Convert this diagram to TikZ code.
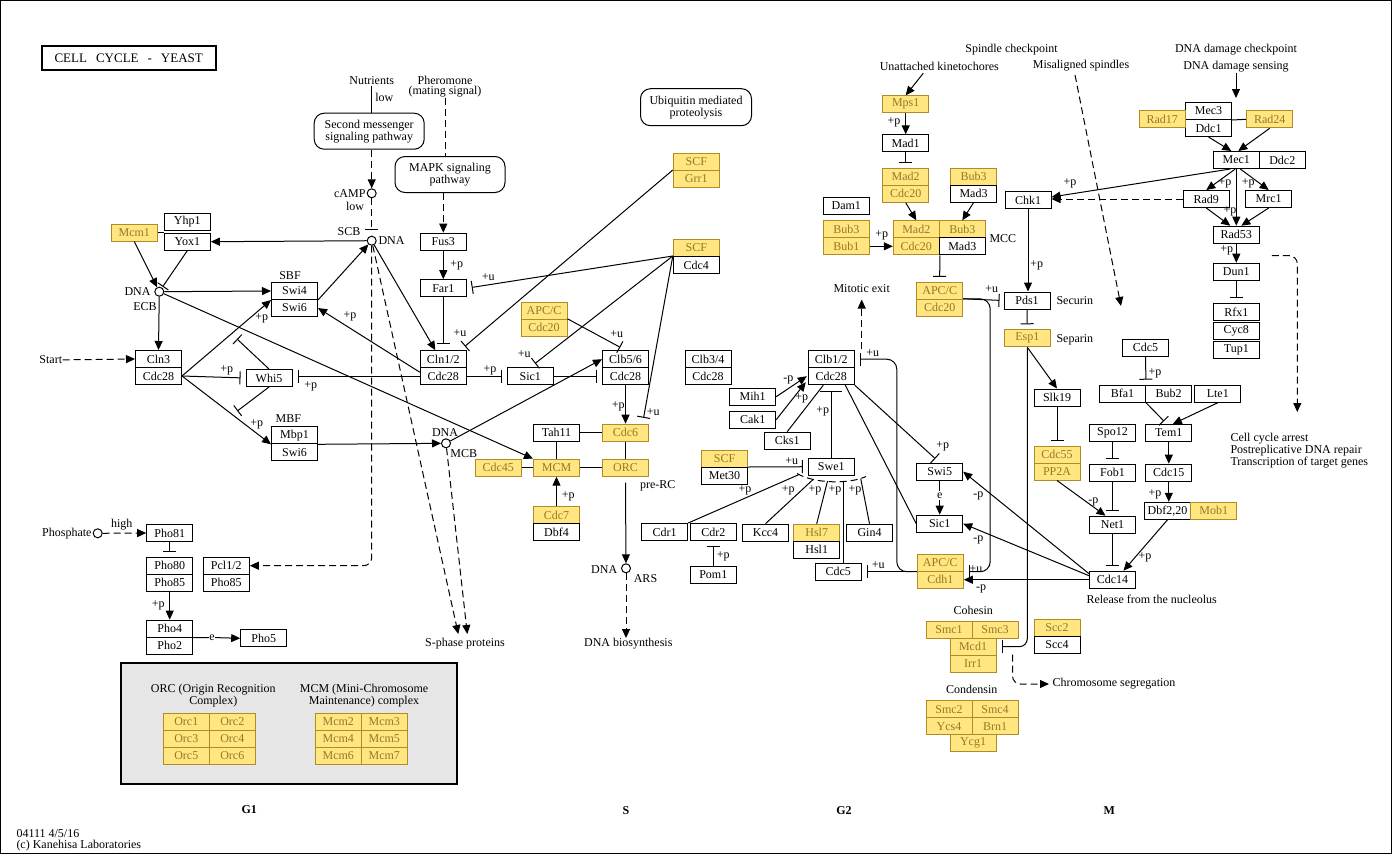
\documentclass[tikz,border=0pt]{standalone}
\usepackage{fontspec}
\setmainfont{Liberation Serif}
\usetikzlibrary{arrows.meta,calc}

\definecolor{kgfill}{RGB}{255,230,128}
\definecolor{kgedge}{RGB}{176,140,36}
\definecolor{kgtext}{RGB}{150,120,40}
\definecolor{kggray}{RGB}{230,230,230}
\newcommand{\kfont}{\fontsize{12}{10.7}\selectfont}

\tikzset{
  gene/.style={draw, fill=white, minimum width=46pt, minimum height=17pt, inner sep=0pt},
  ygene/.style={gene, fill=kgfill, draw=kgedge, text=kgtext},
  mapbox/.style={draw, rounded corners=10pt, align=center, inner sep=2pt},
  site/.style={circle, draw, fill=white, minimum size=9pt, inner sep=0pt},
  lbl/.style={inner sep=0pt},
  phase/.style={inner sep=0pt, font=\kfont\bfseries},
  act/.style={-{Triangle[length=9pt,width=8pt]}},
  inh/.style={-{Bar[width=13pt]}, shorten >=5pt},
  dashed/.style={dash pattern=on 7pt off 4pt},
}

\begin{document}
\begin{tikzpicture}[x=1pt,y=-1pt,line width=1pt,font=\kfont]
\useasboundingbox (0,0) rectangle (1393,855);
\draw (0.5,0.5) rectangle (1391,853.5);
\node[draw, line width=2pt, minimum width=174pt, minimum height=24pt, font=\fontsize{13}{13}\selectfont]
  (title) at (128.7,58.3) {CELL\hspace{9pt}CYCLE\hspace{9pt}-\hspace{9pt}YEAST};

% ---- G1 ----
\node[ygene] (mcmI) at (134.3,232.7) {Mcm1};
\node[gene] (yhp1) at (187.3,221.7) {Yhp1};
\node[gene] (yox1) at (187.3,241.7) {Yox1};
\node[site] (ecb) at (159.3,291.7) {};
\node[lbl,anchor=east] (ecbdna) at (151,292) {DNA};
\node[lbl] (ecbname) at (145,307) {ECB};
\node[lbl] (sbf) at (290,276) {SBF};
\node[gene] (swi4) at (294.5,291) {Swi4};
\node[gene] (swi6a) at (294.5,308) {Swi6};
\node[lbl] (start) at (50.8,360) {Start};
\node[gene] (cln3) at (158.5,359) {Cln3};
\node[gene] (cdc28a) at (158.5,376) {Cdc28};
\node[gene] (whi5) at (269,378) {Whi5};
\node[lbl] (mbf) at (288.3,418.3) {MBF};
\node[gene] (mbp1) at (294.5,435.3) {Mbp1};
\node[gene] (swi6b) at (294.5,452.3) {Swi6};
\node[site] (mcb) at (446,443.3) {};
\node[lbl] (mcbdna) at (445,432.8) {DNA};
\node[lbl] (mcbname) at (463.7,453.3) {MCB};

\node[site] (phos) at (97.7,533.3) {};
\node[lbl,anchor=east] (phosname) at (92,533.3) {Phosphate};
\node[lbl] (high) at (121.7,524.3) {high};
\node[gene] (pho81) at (169.7,533) {Pho81};
\node[gene] (pho80) at (169.7,565.7) {Pho80};
\node[gene] (pho85a) at (169.7,582.7) {Pho85};
\node[gene] (pcl12) at (226.3,565.7) {Pcl1/2};
\node[gene] (pho85b) at (226.3,582.7) {Pho85};
\node[gene] (pho4) at (169.7,628.7) {Pho4};
\node[gene] (pho2) at (169.7,645.7) {Pho2};
\node[lbl] (pho5e) at (212,637.5) {e};
\node[gene] (pho5) at (263.7,638.3) {Pho5};

\node[draw, fill=kggray, line width=2pt, minimum width=335.7pt, minimum height=121pt] (cpxbox) at (288.8,723.8) {};
\node[lbl, align=center] (orctext) at (213.3,695.3) {ORC (Origin Recognition\\Complex)};
\node[lbl, align=center] (mcmtext) at (364,695.3) {MCM (Mini-Chromosome\\Maintenance) complex};
\foreach \a/\b/\y in {1/2/721.8, 3/4/738.8, 5/6/755.8} {
  \node[ygene] (orc\a) at (186.3,\y) {Orc\a};
  \node[ygene] (orc\b) at (232.3,\y) {Orc\b};
}
\foreach \a/\b/\y in {2/3/721.8, 4/5/738.8, 6/7/755.8} {
  \node[ygene] (mcm\a) at (338.3,\y) {Mcm\a};
  \node[ygene] (mcm\b) at (384.3,\y) {Mcm\b};
}
\node[phase] (g1) at (249.3,810) {G1};
\node[lbl, anchor=west, align=left] (foot) at (16,840.5) {04111 4/5/16\\(c) Kanehisa Laboratories};

% ---- G1/S ----
\node[lbl] (nutr) at (371.7,81) {Nutrients};
\node[lbl] (nutrlow) at (384.3,97.7) {low};
\node[mapbox, minimum width=110pt, minimum height=36pt] (msgr) at (369.2,131.2) {Second messenger\\signaling pathway};
\node[site] (camp) at (371.7,193.3) {};
\node[lbl,anchor=east] (campname) at (366,193.3) {cAMP};
\node[lbl] (camplow) at (355,206.7) {low};
\node[lbl] (scb) at (349,232) {SCB};
\node[site] (scbdna) at (371.7,240.7) {};
\node[lbl,anchor=west] (scbdnaname) at (378,240.7) {DNA};
\node[lbl, align=center] (phero) at (445,86.5) {Pheromone\\(mating signal)};
\node[mapbox, minimum width=110pt, minimum height=36pt] (mapk) at (450,174.5) {MAPK signaling\\pathway};
\node[gene] (fus3) at (443.3,241.7) {Fus3};
\node[gene] (far1) at (443.3,288.2) {Far1};
\node[gene] (cln12) at (443.3,359.2) {Cln1/2};
\node[gene] (cdc28b) at (443.3,376.2) {Cdc28};
\node[gene] (sic1a) at (530.3,376.2) {Sic1};
\node[ygene] (apca) at (544,310.8) {APC/C};
\node[ygene] (cdc20a) at (544,327.8) {Cdc20};
\node[gene] (clb56) at (625.5,359.2) {Clb5/6};
\node[gene] (cdc28c) at (625.5,376.2) {Cdc28};
\node[mapbox, minimum width=111pt, minimum height=37pt] (ubiq) at (696,107.2) {Ubiquitin mediated\\proteolysis};
\node[ygene] (scfa) at (696.3,162) {SCF};
\node[ygene] (grr1) at (696.3,179) {Grr1};
\node[ygene] (scfb) at (696.3,248) {SCF};
\node[gene] (cdc4) at (696.3,265) {Cdc4};
\node[gene] (tah11) at (556.5,432.7) {Tah11};
\node[ygene] (cdc6) at (625.5,432.7) {Cdc6};
\node[ygene] (cdc45) at (498.3,467.7) {Cdc45};
\node[ygene] (mcmc) at (556.5,467.7) {MCM};
\node[ygene] (orcc) at (625.5,467.7) {ORC};
\node[ygene] (cdc7) at (556.5,515) {Cdc7};
\node[gene] (dbf4) at (556.5,532) {Dbf4};
\node[lbl] (prerc) at (657.7,486) {pre-RC};
\node[site] (ars) at (626,568.3) {};
\node[lbl] (arsdna) at (604.2,570) {DNA};
\node[lbl] (arsname) at (645.5,578.3) {ARS};
\node[lbl] (dnasyn) at (628.3,644) {DNA biosynthesis};
\node[lbl] (sphase) at (465,644) {S-phase proteins};
\node[phase] (s) at (626,811) {S};

% ---- G2 ----
\node[gene] (clb34) at (708,359.2) {Clb3/4};
\node[gene] (cdc28d) at (708,376.2) {Cdc28};
\node[gene] (clb12) at (831.3,359.2) {Clb1/2};
\node[gene] (cdc28e) at (831.3,376.2) {Cdc28};
\node[lbl] (mitexit) at (861.7,289) {Mitotic exit};
\node[gene] (mih1) at (752.7,396.7) {Mih1};
\node[gene] (cak1) at (752.7,419.7) {Cak1};
\node[gene] (cks1) at (787.2,440.7) {Cks1};
\node[ygene] (scfc) at (724.5,459) {SCF};
\node[gene] (met30) at (724.5,476) {Met30};
\node[gene] (swe1) at (831.3,466.7) {Swe1};
\node[gene] (cdr1) at (664.7,532) {Cdr1};
\node[gene] (cdr2) at (713.3,532) {Cdr2};
\node[gene] (pom1) at (713.3,574.7) {Pom1};
\node[gene] (kcc4) at (765.5,532.7) {Kcc4};
\node[ygene] (hsl7) at (816.7,532.7) {Hsl7};
\node[gene] (hsl1) at (816.7,549.7) {Hsl1};
\node[gene] (gin4) at (869.5,532.7) {Gin4};
\node[gene] (cdc5a) at (838.3,571.7) {Cdc5};
\node[gene] (swi5) at (939.7,471.7) {Swi5};
\node[lbl, fill=white, inner sep=1pt] (swi5e) at (939.7,495.7) {e};
\node[gene] (sic1b) at (939.7,523.7) {Sic1};
\node[ygene] (apcb) at (939.7,290.8) {APC/C};
\node[ygene] (cdc20b) at (939.7,307.8) {Cdc20};
\node[ygene] (apcc) at (940.3,562.7) {APC/C};
\node[ygene] (cdh1) at (940.3,579.7) {Cdh1};
\node[phase] (g2) at (844,811) {G2};

% ---- spindle checkpoint ----
\node[lbl] (spindle) at (1011.5,50) {Spindle checkpoint};
\node[lbl] (unatt) at (939.3,66) {Unattached kinetochores};
\node[lbl] (misal) at (1081,66) {Misaligned spindles};
\node[ygene] (mps1) at (905.7,104.3) {Mps1};
\node[gene] (mad1) at (905.7,143.3) {Mad1};
\node[ygene] (mad2a) at (905.7,176.7) {Mad2};
\node[ygene] (cdc20c) at (905.7,193.7) {Cdc20};
\node[ygene] (bub3a) at (973.5,176.7) {Bub3};
\node[gene] (mad3a) at (973.5,193.7) {Mad3};
\node[gene] (dam1) at (846.3,205.7) {Dam1};
\node[ygene] (bub3b) at (846.3,229.3) {Bub3};
\node[ygene] (bub1) at (846.3,246.3) {Bub1};
\node[ygene] (mad2b) at (916.3,229.3) {Mad2};
\node[ygene] (cdc20d) at (916.3,246.3) {Cdc20};
\node[ygene] (bub3c) at (962.3,229.3) {Bub3};
\node[gene] (mad3b) at (962.3,246.3) {Mad3};
\node[lbl,anchor=west] (mcc) at (989,238.3) {MCC};
\node[gene] (chk1) at (1028,200) {Chk1};
\node[gene] (pds1) at (1027,300.5) {Pds1};
\node[lbl,anchor=west] (securin) at (1056,301) {Securin};
\node[ygene] (esp1) at (1027.3,338.3) {Esp1};
\node[lbl,anchor=west] (separin) at (1056,339.3) {Separin};
\node[gene] (slk19) at (1057,397.5) {Slk19};
\node[ygene] (cdc55) at (1057,454.5) {Cdc55};
\node[ygene] (pp2a) at (1057,471.5) {PP2A};

% ---- DNA damage checkpoint ----
\node[lbl] (dnachk) at (1236,50) {DNA damage checkpoint};
\node[lbl] (dnasens) at (1236,66.7) {DNA damage sensing};
\node[gene] (mec3) at (1208.5,111) {Mec3};
\node[gene] (ddc1) at (1208.5,128) {Ddc1};
\node[ygene] (rad17) at (1162.3,119.3) {Rad17};
\node[ygene] (rad24) at (1269.7,119.3) {Rad24};
\node[gene] (mec1) at (1236.3,160) {Mec1};
\node[gene] (ddc2) at (1282.3,160) {Ddc2};
\node[gene] (rad9) at (1206.3,199) {Rad9};
\node[gene] (mrc1) at (1268.7,199) {Mrc1};
\node[gene] (rad53) at (1236.3,234.7) {Rad53};
\node[gene] (dun1) at (1236.3,271.7) {Dun1};
\node[gene] (rfx1) at (1236.3,312.3) {Rfx1};
\node[gene] (cyc8) at (1236.3,331) {Cyc8};
\node[gene] (tup1) at (1236.3,350) {Tup1};
\node[lbl,anchor=west,align=left] (arrest) at (1230,451) {Cell cycle arrest\\Postreplicative DNA repair\\Transcription of target genes};

% ---- M ----
\node[gene] (cdc5b) at (1145.5,347.7) {Cdc5};
\node[gene] (bfa1) at (1122.5,393.7) {Bfa1};
\node[gene] (bub2) at (1168.7,393.7) {Bub2};
\node[gene] (lte1) at (1217.8,393.7) {Lte1};
\node[gene] (spo12) at (1112.5,433) {Spo12};
\node[gene] (tem1) at (1168.8,433) {Tem1};
\node[gene] (fob1) at (1112.5,472.7) {Fob1};
\node[gene] (cdc15) at (1168.8,472.7) {Cdc15};
\node[gene] (dbf2) at (1167.5,510.8) {Dbf2,20};
\node[ygene] (mob1) at (1213.7,510.8) {Mob1};
\node[gene] (net1) at (1112.5,524.7) {Net1};
\node[gene] (cdc14) at (1112.5,579.7) {Cdc14};
\node[lbl] (release) at (1151.7,599) {Release from the nucleolus};
\node[lbl] (cohesin) at (973.3,610.7) {Cohesin};
\node[ygene] (smc1) at (949,629.7) {Smc1};
\node[ygene] (smc3) at (995,629.7) {Smc3};
\node[ygene] (mcd1) at (973,646.7) {Mcd1};
\node[ygene] (irr1) at (973,663.7) {Irr1};
\node[lbl] (condensin) at (971.7,689.3) {Condensin};
\node[ygene] (smc2) at (949,709.2) {Smc2};
\node[ygene] (smc4) at (995,709.2) {Smc4};
\node[ygene] (ycs4) at (949,726.2) {Ycs4};
\node[ygene] (brn1) at (995,726.2) {Brn1};
\node[ygene] (ycg1) at (973,743.2) {Ycg1};
\node[ygene] (scc2) at (1057,627.7) {Scc2};
\node[gene] (scc4) at (1057,644.7) {Scc4};
\node[lbl,anchor=west] (chrseg) at (1052,684) {Chromosome segregation};
\node[phase] (m) at (1109.3,811) {M};

% free ends
\coordinate (whiup) at (237,339);
\coordinate (whidn) at (237.3,411);
\coordinate (sp1) at (458.3,634);
\coordinate (sp2) at (467.3,634);
\coordinate (mitlow) at (861.7,349);
\coordinate (arcl) at (797,473.5);
\coordinate (arcr) at (866,476.5);
\coordinate (arc1) at (799.1,474.5);
\coordinate (arc2) at (813.1,479.5);
\coordinate (arc3) at (827.5,481.1);
\coordinate (arc4) at (843.8,481.4);
\coordinate (arc5) at (860.7,478.6);
\coordinate (misend) at (1121,306);
\coordinate (dunout) at ($(dun1.north east)+(12,-7)$);
\coordinate (arrestin) at (1297.3,412);
\coordinate (chrstart) at ($(mcd1.east)+(16,8)$);

% G1 connectors
\draw[act] (scbdna) -- (yox1.east);
\draw (mcmI.east) -- (mcmI.east -| yox1.west);
\draw[act] (mcmI.south) -- (ecb);
\draw[inh, shorten >=1pt] (yox1.south) -- (ecb);
\draw[act] (ecb) -- (swi4.west);
\draw[act] (ecb) -- (cln3.north);
\draw[act] (ecb) -- (mcmc.north west);
\draw[act, dashed] (start) -- (cln3.west);
\draw[act] (cdc28a.east) -- (swi4.south west);
\draw[inh] (cdc28a.east) -- (whi5.west);
\draw[act] (cdc28a.east) -- (mbp1.south west);
\draw[inh, shorten >=0pt] (whi5.north) -- (whiup);
\draw[inh, shorten >=0pt] (whi5.south) -- (whidn);
\draw[inh] (cdc28b.west) -- (cdc28b.west -| whi5.east);
\draw[act] ($(cdc28b.west)+(0,-4)$) -- (swi6a.east);
\draw[act] (swi4.south east) -- (scbdna);
\draw[act] (scbdna) -- ($(cln12.north)+(-8,0)$);
\draw[act, dashed] (scbdna) -- (sp1);
\draw[act, dashed, rounded corners=8pt] (scbdna.south) |- (pcl12.east);
\draw[inh, dashed, shorten >=6pt] (camp) -- (scbdna);
\draw[act, dashed] (msgr.south -| camp) -- (camp);
\draw (nutr.south) -- (nutr.south |- msgr.north);
\draw[dashed] (phero.south) -- (phero.south |- mapk.north);
\draw[act, dashed] (mapk.south -| fus3.north) -- (fus3.north);
\draw[act] (fus3.south) -- (far1.north);
\draw[inh, shorten >=6pt] (far1.south) -- (cln12.north);
\draw[inh] (cdc4.north west) -- (far1.east);
\draw[inh, shorten >=6pt] (grr1.north west) -- ($(cln12.north)+(17,0)$);
\draw[inh] (cdc28b.east) -- (sic1a.west);
\draw[inh] (sic1a.east) -- (cdc28c.west);
\draw[inh, shorten >=6pt] (cdc4.north west) -- (sic1a.north);
\draw[inh, shorten >=6pt] (cdc20a.north east) -- (clb56.north);
\draw[act] (mcb) -- (clb56.west);
\draw[act] (mbp1.south east) -- (mcb);
\draw[act] (cdc28c.south) -- (cdc6.north);
\draw[inh, shorten >=6pt] (cdc4.north west) -- ($(cdc6.north)+(17,0)$);
\draw (tah11.east) -- (cdc6.west);
\draw (cdc45.east) -- (mcmc.west);
\draw (mcmc.east) -- (orcc.west);
\draw (tah11.south) -- (mcmc.north);
\draw (cdc6.south) -- (orcc.north);
\draw[act] (cdc7.north) -- (mcmc.south);
\draw[act] ($(orcc.south)+(0,6)$) -- (ars);
\draw[act, dashed] (ars) -- (ars |- dnasyn.north);
\draw[act, dashed] (mcb) -- (sp2);
\draw[act, dashed] (phos) -- (pho81.west);
\draw[inh] (pho81.south) -- (pho80.north);
\draw[act] (pho85a.south) -- (pho4.north);
\draw (pho4.south east) -- (pho5e);
\draw[act] (pho5e) -- (pho5.west);

% G2 connectors
\draw[act, dashed] (mitlow) -- ($(mitexit.south)+(0,6)$);
\draw[act] (mih1.east) -- ($(cdc28e.west)+(-1,0)$);
\draw[act] (cak1.east) -- ($(cdc28e.south west)+(-2,-3)$);
\draw (cks1.north) -- ($(cdc28e.south)+(-8,0)$);
\draw[inh, -{Bar[width=22pt]}, shorten >=6pt] (swe1.north) -- (swe1.north |- cdc28e.south);
\draw[inh, shorten >=6pt] (cdc28e.south east) -- (swi5.north);
\draw ($(cdc28e.south)+(14,0)$) -- (sic1b.west);
\draw (swi5.south) -- (swi5e);
\draw[act] (swi5e) -- (sic1b.north);
\draw[inh] (met30.north east) -- (swe1.west);
\draw[dashed] (arcl) .. controls (815,484) and (850,484) .. (arcr);
\draw (cdr1.north east) -- (arc1);
\draw (kcc4.north) -- (arc2);
\draw (hsl7.north) -- (arc3);
\draw ($(cdc5a.north)+(5.5,0)$) -- (arc4);
\draw (gin4.north) -- (arc5);
\draw[inh] (pom1.north) -- (cdr2.south);
\draw[inh] (apcc.south west) -- (apcc.south west -| cdc5a.east);
\draw[inh, rounded corners=10pt] (apcc.south west) -- ++(-20,0) |- (clb12.east);
\draw[inh, shorten >=4pt] (cdc20b.north east) -- (pds1.west);
\draw[inh, rounded corners=10pt] (cdc20b.north east) -- ++(27,0) |- (apcc.south east);

% spindle checkpoint connectors
\draw[act] ($(unatt.south)+(-16,2.5)$) -- (mps1.north);
\draw[act] (mps1.south) -- (mad1.north);
\draw[inh] (mad1.south) -- (mad2a.north);
\draw[act] (cdc20c.south) -- (mad2b.north);
\draw[act] (mad3a.south) -- (bub3c.north);
\draw[act] (bub1.east) -- (cdc20d.west);
\draw[inh] (cdc20d.south east) -- (apcb.north);
\draw[act] (chk1.south) -- (chk1.south |- pds1.north);
\draw[inh] (pds1.south) -- (esp1.north);
\draw[act] (esp1.south) -- (slk19.north);
\draw[inh, rounded corners=8pt] (esp1.south) |- (mcd1.east);
\draw[inh] (slk19.south) -- (cdc55.north);
\draw[act, dashed, rounded corners=8pt] (chrstart) |- ($(chrseg.west)+(-3,0)$);
\draw[act, dashed] ($(misal.south)+(-6,3)$) -- (misend);

% DNA damage connectors
\draw[act, shorten >=4pt] (dnasens.south) -- (dnasens.south |- mec3.north);
\draw (mec3.south east) -- (rad24.west);
\draw[act] (ddc1.south) -- ($(mec1.north)+(-5,0)$);
\draw[act] (rad24.south) -- ($(mec1.north)+(2,0)$);
\draw[act] ($(mec1.south)+(-6,0)$) -- ($(chk1.east)+(0,-3)$);
\draw[act, dashed] (rad9.west) -- (rad9.west -| chk1.east);
\draw[act] ($(mec1.south)+(-1,0)$) -- (rad9.north);
\draw[act] ($(mec1.south)+(4,0)$) -- (mrc1.north);
\draw[act] (mec1.south) -- (rad53.north);
\draw[act] (rad9.south) -- ($(rad53.north)+(-6,0)$);
\draw[act] (mrc1.south) -- ($(rad53.north)+(5,0)$);
\draw[act] (rad53.south) -- (dun1.north);
\draw[inh] (dun1.south) -- (rfx1.north);
\draw[act, dashed, rounded corners=8pt] (dunout) -| (arrestin);

% M connectors
\draw[inh] (cdc5b.south) -- (bfa1.north east);
\draw[inh, shorten >=4pt] (bfa1.south east) -- ($(tem1.north)+(-2,0)$);
\draw[act] (lte1.south) -- ($(tem1.north)+(4,0)$);
\draw[act] (tem1.south) -- (cdc15.north);
\draw[act] (cdc15.south) -- (cdc15.south |- dbf2.north);
\draw[inh] (spo12.south) -- (fob1.north);
\draw[inh] (fob1.south) -- (net1.north);
\draw[act] (pp2a.south) -- ($(net1.north)+(-7,0)$);
\draw[inh] (net1.south) -- (cdc14.north);
\draw[act] (dbf2.south) -- ($(cdc14.north)+(11,0)$);
\draw[act] ($(cdc14.north west)+(0,3)$) -- (swi5.east);
\draw[act] ($(cdc14.north west)+(0,5)$) -- (sic1b.east);
\draw[act] (cdc14.west) -- (cdc14.west -| cdh1.east);

% modification labels
\foreach \x/\y/\t [count=\k] in {
  226.7/370/+p, 310.7/386.7/+p, 261.7/318.3/+p, 256.7/424.3/+p, 350/316.7/+p,
  456.7/265/+p, 488.3/276.7/+u, 460/332.7/+u, 490/370/+p, 524.3/354/+u,
  616.7/334.3/+u, 618.3/406.7/+p, 653.3/411.7/+u, 568.3/496/+p, 158.3/605/+p,
  894/122.7/+p, 881.7/235/+p, 1036.7/265/+p, 991.7/289/+u, 872.7/353.3/+u,
  788.3/380/-p, 801.7/398.3/+p, 822.7/411.7/+p, 942.7/446.7/+p, 791.7/460.7/+u,
  745/490/+p, 788.3/490/+p, 815/490/+p, 835/490/+p, 855/490/+p,
  723.3/556.7/+p, 878.3/565/+u, 976/569/+u, 978.3/495.7/-p, 978.3/540/-p,
  981/589.3/-p, 1070/183.3/+p, 1225/183.3/+p, 1248.3/183.3/+p, 1230/211.7/+p,
  1226.7/250/+p, 1155/373.3/+p, 1155/494/+p, 1093.3/501.7/-p, 1145/557.7/+p}
  \node[lbl] (mod\k) at (\x,\y) {\t};
\end{tikzpicture}
\end{document}
